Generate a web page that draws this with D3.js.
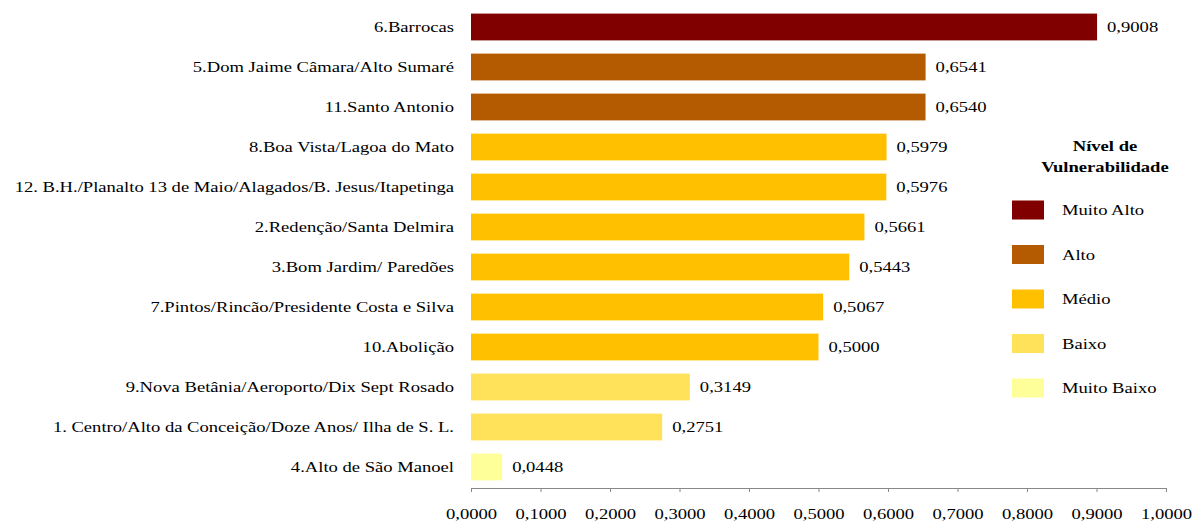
<!DOCTYPE html>
<html>
<head>
<meta charset="utf-8">
<script src="https://cdn.jsdelivr.net/npm/d3@7"></script>
<style>
  html, body { margin: 0; padding: 0; background: #fff; }
  svg { display: block; font-family: "Liberation Serif", "Times New Roman", serif; }
</style>
</head>
<body>
<svg id="chart" width="1195" height="525"></svg>
<script>
// Bairros ordered by vulnerability index (top to bottom)
const bairros = [
  "6.Barrocas",
  "5.Dom Jaime Câmara/Alto Sumaré",
  "11.Santo Antonio",
  "8.Boa Vista/Lagoa do Mato",
  "12. B.H./Planalto 13 de Maio/Alagados/B. Jesus/Itapetinga",
  "2.Redenção/Santa Delmira",
  "3.Bom Jardim/ Paredões",
  "7.Pintos/Rincão/Presidente Costa e Silva",
  "10.Abolição",
  "9.Nova Betânia/Aeroporto/Dix Sept Rosado",
  "1. Centro/Alto da Conceição/Doze Anos/ Ilha de S. L.",
  "4.Alto de São Manoel"
];
const indices = [0.9008, 0.6541, 0.6540, 0.5979, 0.5976, 0.5661, 0.5443, 0.5067, 0.5000, 0.3149, 0.2751, 0.0448];
const niveis = ["Muito Alto", "Alto", "Alto", "Médio", "Médio", "Médio", "Médio", "Médio", "Médio", "Baixo", "Baixo", "Muito Baixo"];

const legendLevels = ["Muito Alto", "Alto", "Médio", "Baixo", "Muito Baixo"];
const levelColors = ["#800000", "#B45A00", "#FFC000", "#FFE15A", "#FFFF99"];
const xTicks = [0, 0.1, 0.2, 0.3, 0.4, 0.5, 0.6, 0.7, 0.8, 0.9, 1.0];

const fmt = v => d3.format(".4f")(v).replace(".", ",");

// Text in this chart is set slightly wide
const SX = 1.2;
const FS = 15.5;
function place(sel, fx, fy) {
  sel.attr("x", 0).attr("y", 0)
     .attr("transform", (d, i) => `translate(${fx(d, i)},${fy(d, i)}) scale(${SX},1)`);
}

const svg = d3.select("#chart");

const x = d3.scaleLinear().domain([0, 1]).range([471, 1166]);
const y = d3.scaleBand().domain(bairros).range([7, 487]).paddingInner(0.33).paddingOuter(0.165);
const color = d3.scaleOrdinal().domain(legendLevels).range(levelColors);

const rows = bairros.map((b, i) => ({ name: b, value: indices[i], level: niveis[i] }));

// Bars
svg.append("g").selectAll("rect")
  .data(rows)
  .join("rect")
  .attr("x", x(0))
  .attr("y", d => y(d.name))
  .attr("width", d => x(d.value) - x(0))
  .attr("height", y.bandwidth())
  .attr("fill", d => color(d.level));

// Value labels
svg.append("g").selectAll("text")
  .data(rows)
  .join("text")
  .call(place, d => x(d.value) + 10, d => y(d.name) + y.bandwidth() / 2)
  .attr("dy", "0.35em")
  .attr("font-size", FS)
  .attr("fill", "#000")
  .text(d => fmt(d.value));

// Category labels
svg.append("g").selectAll("text")
  .data(rows)
  .join("text")
  .call(place, () => 454, d => y(d.name) + y.bandwidth() / 2)
  .attr("dy", "0.35em")
  .attr("text-anchor", "end")
  .attr("font-size", FS)
  .attr("fill", "#000")
  .text(d => d.name);

// X axis
const xAxis = svg.append("g")
  .attr("transform", "translate(0,488)")
  .call(d3.axisBottom(x).tickValues(xTicks).tickSize(4).tickSizeOuter(0).tickFormat(fmt).tickPadding(16));
xAxis.select(".domain").attr("stroke", "#888");
xAxis.selectAll(".tick line").attr("stroke", "#888");
xAxis.selectAll(".tick text")
  .attr("transform", `scale(${SX},1)`)
  .attr("font-family", "Liberation Serif, Times New Roman, serif")
  .attr("font-size", FS)
  .attr("fill", "#000");

// Legend
const legend = svg.append("g");
legend.append("text")
  .call(place, () => 1105, () => 151)
  .attr("text-anchor", "middle")
  .attr("font-size", FS).attr("font-weight", "bold")
  .text("Nível de");
legend.append("text")
  .call(place, () => 1105, () => 172)
  .attr("text-anchor", "middle")
  .attr("font-size", FS).attr("font-weight", "bold")
  .text("Vulnerabilidade");

const ly = d3.scalePoint().domain(legendLevels).range([210, 388]);
const items = legend.selectAll("g.item")
  .data(legendLevels)
  .join("g").attr("class", "item");
items.append("rect")
  .attr("x", 1012)
  .attr("y", d => ly(d) - 9.5)
  .attr("width", 32).attr("height", 19)
  .attr("fill", d => color(d));
items.append("text")
  .call(place, () => 1062, d => ly(d))
  .attr("dy", "0.35em")
  .attr("font-size", FS)
  .text(d => d);
</script>
</body>
</html>
